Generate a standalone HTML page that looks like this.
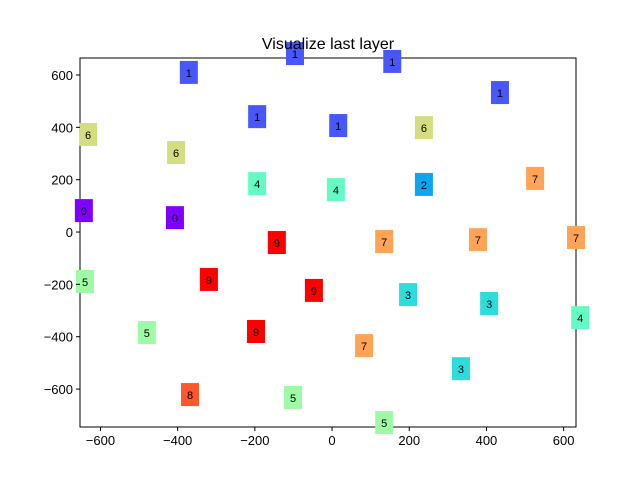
<!DOCTYPE html>
<html><head><meta charset="utf-8"><style>
body{margin:0;background:#fff;}
svg text{font-family:"Liberation Sans","DejaVu Sans",sans-serif;}
</style></head><body>
<svg id="chart" width="640" height="480" xmlns="http://www.w3.org/2000/svg">
<rect x="0" y="0" width="640" height="480" fill="#fff"/>
<rect x="80" y="58" width="496" height="369" fill="none" stroke="#000" stroke-width="1"/>
<g id="marks"></g>
<text x="328" y="49" font-size="16" text-anchor="middle">Visualize last layer</text>
<g id="axes"></g>
</svg>
<script>
const labels = [1,1,1,1,1,1,6,6,6,7,4,4,2,0,0,9,7,7,7,5,9,9,3,3,4,5,9,7,3,8,5,5];
const xs = [-371,-96,156,435,-194,16,-632,-404,238,526,-194,10,238,-643,-407,-143,135,378,632,-640,-319,-47,197,407,643,-480,-197,83,334,-368,-101,135];
const ys = [608,680,650,531,439,405,371,302,397,203,183,160,180,80,53,-42,-38,-31,-23,-191,-183,-225,-241,-275,-329,-386,-382,-436,-524,-623,-634,-730];
const xTicks = [-600,-400,-200,0,200,400,600];
const yTicks = [600,400,200,0,-200,-400,-600];
const colors = ["#8000ff","#4757fb","#0ea4f0","#2bdddd","#63fbc3","#9cfba4","#d4dd80","#ffa457","#ff572c","#ff0000"];
const X0=80,X1=576,Y0=58,Y1=427, xmin=-653,xmax=632,ymin=-745,ymax=665;
const sx=v=>X0+(v-xmin)/(xmax-xmin)*(X1-X0);
const sy=v=>Y1-(v-ymin)/(ymax-ymin)*(Y1-Y0);
const NS="http://www.w3.org/2000/svg";
const marks=document.getElementById('marks'), axes=document.getElementById('axes');
labels.forEach((d,i)=>{
  const g=document.createElementNS(NS,'g');
  
  
  const r=document.createElementNS(NS,'rect');
  r.setAttribute('x',sx(xs[i])-9);r.setAttribute('y',sy(ys[i])-12);
  r.setAttribute('width',18);r.setAttribute('height',23);
  r.setAttribute('fill',colors[d]);
  const t=document.createElementNS(NS,'text');
  t.setAttribute('x',sx(xs[i]));t.setAttribute('y',sy(ys[i])+4);
  t.setAttribute('font-size','11');t.setAttribute('text-anchor','middle');
  t.textContent=d;
  g.appendChild(r);g.appendChild(t);marks.appendChild(g);
});
xTicks.forEach(v=>{
  const l=document.createElementNS(NS,'line');
  
  
  l.setAttribute('x1',sx(v));l.setAttribute('x2',sx(v));l.setAttribute('y1',Y1);l.setAttribute('y2',Y1+4);l.setAttribute('stroke','#000');
  const t=document.createElementNS(NS,'text');
  
  
  t.setAttribute('x',sx(v));t.setAttribute('y',Y1+18);t.setAttribute('font-size','13');t.setAttribute('text-anchor','middle');
  t.textContent=v<0?'\u2212'+(-v):v;
  axes.appendChild(l);axes.appendChild(t);
});
yTicks.forEach(v=>{
  const l=document.createElementNS(NS,'line');
  
  
  l.setAttribute('x1',X0-4);l.setAttribute('x2',X0);l.setAttribute('y1',sy(v));l.setAttribute('y2',sy(v));l.setAttribute('stroke','#000');
  const t=document.createElementNS(NS,'text');
  
  
  t.setAttribute('x',X0-7);t.setAttribute('y',sy(v)+5);t.setAttribute('font-size','13');t.setAttribute('text-anchor','end');
  t.textContent=v<0?'\u2212'+(-v):v;
  axes.appendChild(l);axes.appendChild(t);
});
</script>
</body></html>
